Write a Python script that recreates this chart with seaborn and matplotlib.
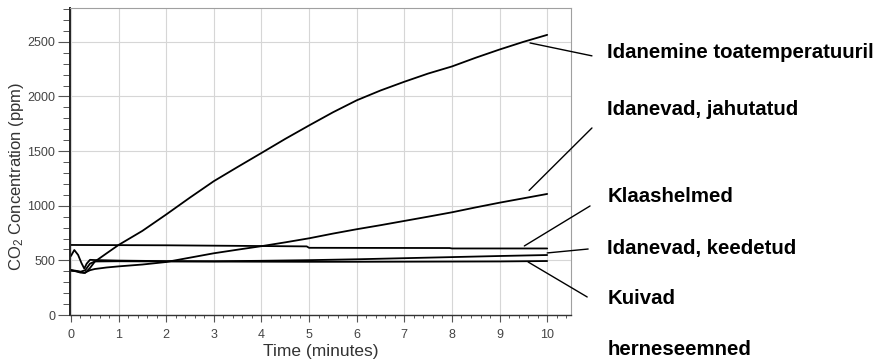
import matplotlib
matplotlib.use("Agg")
from matplotlib import pyplot as plt
from matplotlib.ticker import MultipleLocator
import pandas as pd
import seaborn as sns

# andmed (loetud pildilt)
t_toa = [0, 0.1, 0.2, 0.3, 0.4, 0.5, 0.75, 1, 1.5, 2, 2.5, 3, 3.5, 4, 4.5, 5,
         5.5, 6, 6.5, 7, 7.5, 8, 8.5, 9, 9.5, 10]
co2_toa = [410, 400, 388, 386, 430, 488, 565, 641, 770, 920, 1075, 1225, 1355,
           1483, 1612, 1735, 1855, 1965, 2055, 2135, 2210, 2275, 2355, 2430,
           2500, 2564]

t_jahut = [0, 0.1, 0.2, 0.28, 0.4, 0.5, 0.75, 1, 1.5, 2, 2.5, 3, 3.5, 4, 4.5,
           5, 5.5, 6, 6.5, 7, 7.5, 8, 8.5, 9, 9.5, 10]
co2_jahut = [412, 405, 395, 385, 410, 421, 435, 445, 462, 485, 525, 565, 598,
             630, 665, 702, 745, 785, 822, 861, 900, 940, 985, 1028, 1068, 1108]

t_klaas = [0, 2, 4.95, 5.0, 7.95, 8.0, 10]
co2_klaas = [641, 638, 628, 615, 613, 609, 609]

t_keed = [0, 0.07, 0.15, 0.22, 0.28, 0.33, 0.4, 0.5, 1, 2, 3, 4, 5, 6, 7, 8,
          9, 10]
co2_keed = [540, 595, 550, 476, 425, 470, 505, 503, 498, 493, 492, 496, 502,
            510, 520, 530, 540, 549]

t_kuiv = [0, 0.1, 0.2, 0.3, 0.4, 0.5, 1, 2, 3, 4, 5, 6, 7, 8, 9, 10]
co2_kuiv = [405, 402, 396, 410, 470, 490, 492, 490, 489, 488, 487, 487, 488,
            489, 490, 494]

nimed = ["Idanemine toatemperatuuril", "Idanevad, jahutatud", "Klaashelmed",
         "Idanevad, keedetud", "Kuivad"]

# leader lines: punkt kõveral -> joone ots (t, ppm)
noole_algus = [(9.64, 2490), (9.62, 1140), (9.52, 632), (10.0, 568), (9.6, 485)]
noole_ots = [(10.94, 2372), (10.94, 1712), (10.9, 998), (10.86, 604), (10.84, 165)]
# siltide asukohad (figure fraction)
silt_x = 0.690
silt_y = [0.854, 0.697, 0.458, 0.316, 0.179, 0.036]
silt_tekst = ["Idanemine toatemperatuuril", "Idanevad, jahutatud", "Klaashelmed",
              "Idanevad, keedetud", "Kuivad", "herneseemned"]

frames = []
for nimi, t, c in zip(nimed, [t_toa, t_jahut, t_klaas, t_keed, t_kuiv],
                      [co2_toa, co2_jahut, co2_klaas, co2_keed, co2_kuiv]):
    frames.append(pd.DataFrame({"t": t, "co2": c, "seeria": nimi}))
df = pd.concat(frames, ignore_index=True)

sns.set_style("white")
plt.rcParams["font.family"] = ["Liberation Sans", "DejaVu Sans"]
plt.rcParams["mathtext.fontset"] = "custom"
plt.rcParams["mathtext.rm"] = "Liberation Sans"
plt.rcParams["mathtext.it"] = "Liberation Sans"

fig = plt.figure(figsize=(8.8, 3.63), dpi=100)
ax = fig.add_axes([70 / 880, 48 / 363, 501 / 880, 307 / 363])

sns.lineplot(data=df, x="t", y="co2", hue="seeria", units="seeria",
             estimator=None, sort=False, palette={n: "black" for n in nimed},
             linewidth=1.3, legend=False, ax=ax)

ax.set_xlim(-0.02, 10.5)
ax.set_ylim(0, 2810)
ax.xaxis.set_major_locator(MultipleLocator(1))
ax.xaxis.set_minor_locator(MultipleLocator(0.2))
ax.yaxis.set_major_locator(MultipleLocator(500))
ax.yaxis.set_minor_locator(MultipleLocator(100))
ax.grid(True, which="major", color="#d6d6d6", linewidth=0.8)
ax.set_axisbelow(True)

ax.tick_params(axis="x", which="major", length=5, width=0.8, color="#555555",
               pad=5, labelsize=9, labelcolor="#444444", direction="out", bottom=True)
ax.tick_params(axis="x", which="minor", length=2.5, width=0.7, color="#555555",
               direction="out", bottom=True)
ax.tick_params(axis="y", which="major", length=9, width=0.8, color="#555555",
               pad=1.5, labelsize=9, labelcolor="#444444", direction="out", left=True)
ax.tick_params(axis="y", which="minor", length=5, width=0.7, color="#555555",
               direction="out", left=True)

for s in ["top", "right"]:
    ax.spines[s].set_color("#a0a0a0")
    ax.spines[s].set_linewidth(0.8)
ax.spines["left"].set_color("#222222")
ax.spines["left"].set_linewidth(1.4)
ax.spines["bottom"].set_color("#333333")
ax.spines["bottom"].set_linewidth(1.0)

ax.set_xlabel("Time (minutes)", fontsize=12.5, color="#333333")
ax.set_ylabel("CO$_2$ Concentration (ppm)", fontsize=12, color="#333333")
ax.xaxis.set_label_coords(0.5, -29 / 307)
ax.yaxis.set_label_coords(-44 / 501, 0.453)

for a, b in zip(noole_algus, noole_ots):
    ax.annotate("", xy=a, xytext=b, annotation_clip=False,
                arrowprops=dict(arrowstyle="-", color="black", lw=1.0,
                                shrinkA=0, shrinkB=0))

for y, s in zip(silt_y, silt_tekst):
    fig.text(silt_x, y, s, fontsize=14.7, fontweight="bold", va="center",
             ha="left", color="black")

fig.savefig("out.png", dpi=100)
